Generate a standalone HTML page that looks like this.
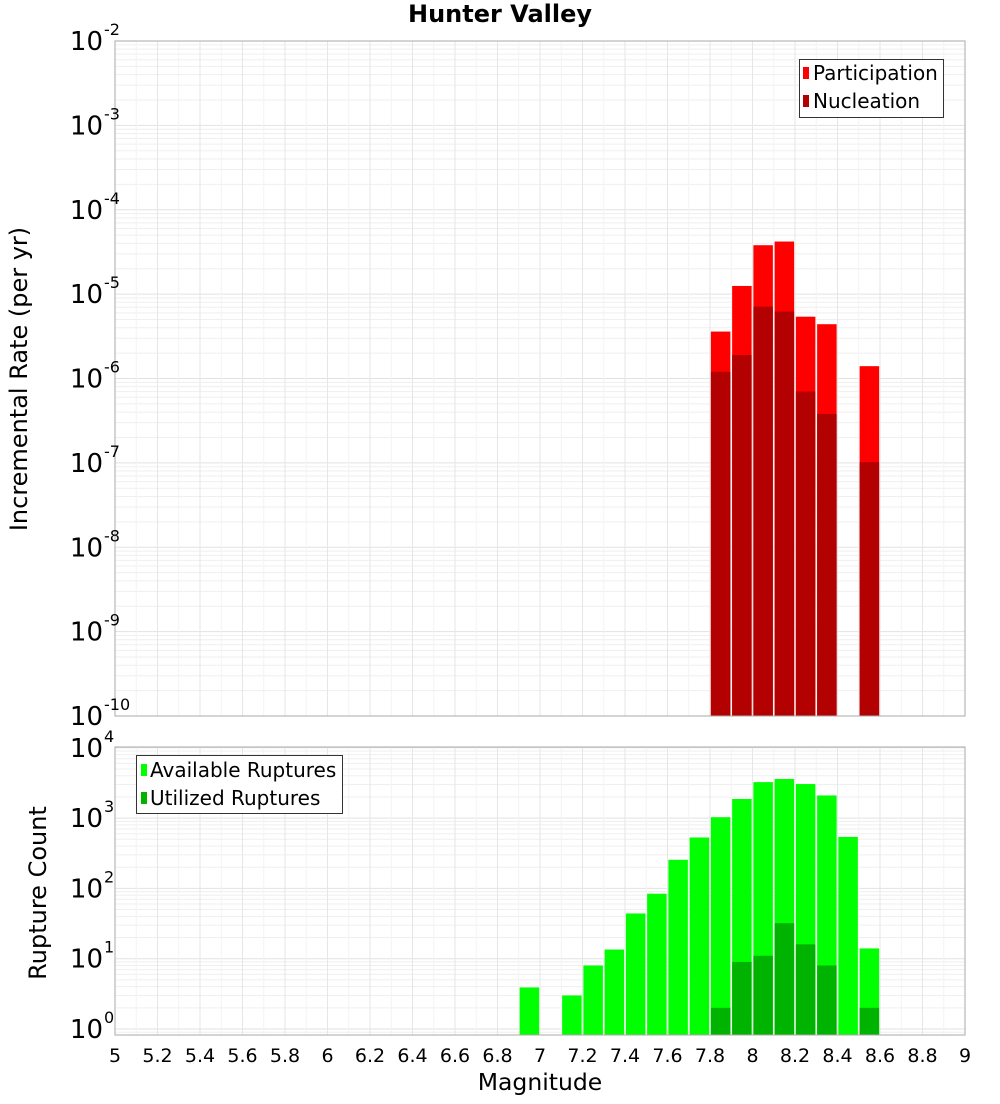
<!DOCTYPE html>
<html><head><meta charset="utf-8"><style>
body{margin:0;background:#fff;font-family:"DejaVu Sans","Liberation Sans",sans-serif}
svg text{font-family:"DejaVu Sans","Liberation Sans",sans-serif}
</style></head><body>
<svg id="c" width="1000" height="1100" xmlns="http://www.w3.org/2000/svg"></svg>
<script>
const mags = [6.95,7.15,7.25,7.35,7.45,7.55,7.65,7.75,7.85,7.95,8.05,8.15,8.25,8.35,8.45,8.55];
const availableCounts = [3.9,3.0,8.0,13.5,44,84,255,530,1030,1870,3250,3600,3050,2100,540,14];
const utilizedMags = [7.85,7.95,8.05,8.15,8.25,8.35,8.55];
const utilizedCounts = [2.0,9.0,11,32,16,8.0,2.0];
const rateMags = [7.85,7.95,8.05,8.15,8.25,8.35,8.55];
const participationRates = [3.6e-6,1.25e-5,3.8e-5,4.2e-5,5.4e-6,4.4e-6,1.4e-6];
const nucleationRates = [1.2e-6,1.9e-6,7.1e-6,6.2e-6,7.0e-7,3.8e-7,1.02e-7];
const xTicks = [5,5.2,5.4,5.6,5.8,6,6.2,6.4,6.6,6.8,7,7.2,7.4,7.6,7.8,8,8.2,8.4,8.6,8.8,9];
const topExps = [-2,-3,-4,-5,-6,-7,-8,-9,-10];
const botExps = [0,1,2,3,4];

const svg=document.getElementById('c');
const NS='http://www.w3.org/2000/svg';
function mk(tag,attrs,parent){const e=document.createElementNS(NS,tag);for(const k in attrs)e.setAttribute(k,attrs[k]);(parent||svg).appendChild(e);return e;}
const X0=115,X1=965;
const xs=m=>X0+(m-5)/4*(X1-X0);
const T0=41,T1=716;
const yTop=v=>T0+(-2-Math.log10(v))*(T1-T0)/8;
const B0=747,B1=1035;
const yBot=v=>1029-70.3*Math.log10(v);
const bw=19.5;

function grid(y0,y1,yf,lo,hi){
  const g=mk('g',{});
  
  
  for(let e=lo;e<=hi;e++){for(let k=1;k<10;k++){const v=k*Math.pow(10,e);const y=yf(v);if(y<y0-0.5||y>y1+0.5)continue;
    mk('line',{x1:X0,x2:X1,y1:y,y2:y,stroke:k==1?'#e2e2e2':'#efefef','stroke-width':1},g);}}
  xTicks.forEach(t=>{mk('line',{x1:xs(t),x2:xs(t),y1:y0,y2:y1,stroke:'#e6e6e6','stroke-width':1},g);});
  for(let t=5.1;t<9;t+=0.2){mk('line',{x1:xs(t),x2:xs(t),y1:y0,y2:y1,stroke:'#f3f3f3','stroke-width':1},g);}
}
grid(T0,T1,yTop,-10,-3);
grid(B0,B1,yBot,-1,4);

rateMags.forEach((m,i)=>{
  const r=mk('rect',{x:xs(m)-bw/2,y:yTop(participationRates[i]),width:bw,height:T1-yTop(participationRates[i]),fill:'#ff0000'});
  
  
  const n=mk('rect',{x:xs(m)-bw/2,y:yTop(nucleationRates[i]),width:bw,height:T1-yTop(nucleationRates[i]),fill:'#b30000'});
  
  
});
mags.forEach((m,i)=>{
  const y=Math.max(B0,yBot(availableCounts[i]));
  const r=mk('rect',{x:xs(m)-bw/2,y:y,width:bw,height:B1-y,fill:'#00ff00'});
  
  
});
utilizedMags.forEach((m,i)=>{
  const y=yBot(utilizedCounts[i]);
  const r=mk('rect',{x:xs(m)-bw/2,y:y,width:bw,height:B1-y,fill:'#00b300'});
  
  
});

mk('rect',{x:X0,y:T0,width:X1-X0,height:T1-T0,fill:'none',stroke:'#aaa'});
mk('rect',{x:X0,y:B0,width:X1-X0,height:B1-B0,fill:'none',stroke:'#aaa'});

function expLabel(y,e,name){
  const t=mk('text',{x:103,y:y+9,'text-anchor':'end','font-size':26,fill:'#000'});
  
  
  t.textContent='10';
  const s=mk('text',{x:104,y:y-6,'font-size':16,fill:'#000'});
  
  
  s.textContent=String(e);
}
topExps.forEach(e=>expLabel(yTop(Math.pow(10,e)),e,'y-tick-top'));
botExps.forEach(e=>expLabel(yBot(Math.pow(10,e)),e,'y-tick-bottom'));

xTicks.forEach(t=>{
  const l=mk('text',{x:xs(t),y:1062,'text-anchor':'middle','font-size':19,fill:'#000'});
  
  
  l.textContent=String(Math.round(t*10)/10);
});
</script>
<svg style="position:absolute;left:0;top:0" width="1000" height="1100" xmlns="http://www.w3.org/2000/svg">
<text x="500" y="22" text-anchor="middle" font-size="24" font-weight="bold">Hunter Valley</text>
<text x="27" y="379" text-anchor="middle" font-size="24" transform="rotate(-90 27 379)">Incremental Rate (per yr)</text>
<text x="46" y="893" text-anchor="middle" font-size="24" transform="rotate(-90 46 893)">Rupture Count</text>
<text x="540" y="1090" text-anchor="middle" font-size="23.5">Magnitude</text>
<g>
<rect x="799.5" y="59.5" width="144" height="58" fill="#fff" stroke="#333"/>
<rect x="803" y="67" width="6" height="12" fill="#ff0000"/>
<text x="813" y="80" font-size="20">Participation</text>
<rect x="803" y="95" width="6" height="12" fill="#b30000"/>
<text x="813" y="108" font-size="20">Nucleation</text>
</g>
<g>
<rect x="136.5" y="755.5" width="206" height="58" fill="#fff" stroke="#333"/>
<rect x="141" y="764" width="6" height="12" fill="#00ff00"/>
<text x="150" y="777" font-size="20">Available Ruptures</text>
<rect x="141" y="792" width="6" height="12" fill="#00b300"/>
<text x="150" y="805" font-size="20">Utilized Ruptures</text>
</g>
</svg>
</body></html>
